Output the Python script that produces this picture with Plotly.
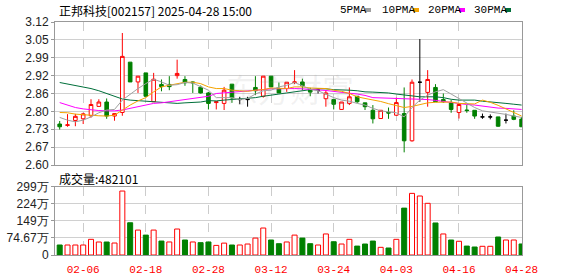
import plotly.graph_objects as go

# ---------------- data ----------------
dates = ["01-24", "01-27", "02-05", "02-06", "02-07", "02-10", "02-11", "02-12", "02-13", "02-14",
         "02-17", "02-18", "02-19", "02-20", "02-21", "02-24", "02-25", "02-26", "02-27", "02-28",
         "03-03", "03-04", "03-05", "03-06", "03-07", "03-10", "03-11", "03-12", "03-13", "03-14",
         "03-17", "03-18", "03-19", "03-20", "03-21", "03-24", "03-25", "03-26", "03-27", "03-28",
         "03-31", "04-01", "04-02", "04-03", "04-07", "04-08", "04-09", "04-10", "04-11", "04-14",
         "04-15", "04-16", "04-17", "04-18", "04-21", "04-22", "04-23", "04-24", "04-25", "04-28"]

opens = [2.749, 2.744, 2.762, 2.768, 2.779, 2.813, 2.829, 2.778, 2.791, 2.974,
         2.902, 2.935, 2.830, 2.893, 2.893, 2.925, 2.911, 2.902, 2.883, 2.862,
         2.827, 2.824, 2.894, 2.838, 2.838, 2.882, 2.850, 2.923, 2.878, 2.878,
         2.900, 2.902, 2.875, 2.872, 2.841, 2.838, 2.802, 2.824, 2.850, 2.826,
         2.799, 2.769, 2.791, 2.781, 2.787, 2.688, 2.901, 2.864, 2.882, 2.838,
         2.826, 2.791, 2.800, 2.799, 2.775, 2.775, 2.775, 2.763, 2.778, 2.767]
highs = [2.760, 2.785, 2.786, 2.790, 2.839, 2.839, 2.842, 2.787, 3.080, 2.974,
         2.923, 2.935, 2.935, 2.911, 2.923, 2.983, 2.923, 2.904, 2.889, 2.866,
         2.832, 2.884, 2.894, 2.848, 2.848, 2.923, 2.923, 2.923, 2.900, 2.901,
         2.945, 2.914, 2.881, 2.878, 2.872, 2.838, 2.829, 2.882, 2.850, 2.826,
         2.818, 2.799, 2.809, 2.845, 2.882, 2.911, 3.058, 2.945, 2.894, 2.860,
         2.836, 2.820, 2.818, 2.799, 2.787, 2.784, 2.775, 2.787, 2.799, 2.775]
lows = [2.729, 2.739, 2.741, 2.749, 2.772, 2.813, 2.768, 2.761, 2.779, 2.902,
        2.862, 2.850, 2.830, 2.868, 2.872, 2.914, 2.888, 2.862, 2.860, 2.802,
        2.802, 2.800, 2.826, 2.821, 2.812, 2.854, 2.845, 2.884, 2.862, 2.866,
        2.894, 2.872, 2.850, 2.860, 2.812, 2.802, 2.800, 2.818, 2.826, 2.800,
        2.751, 2.769, 2.768, 2.779, 2.646, 2.685, 2.830, 2.812, 2.830, 2.826,
        2.790, 2.769, 2.790, 2.768, 2.768, 2.766, 2.739, 2.751, 2.763, 2.739]
closes = [2.739, 2.746, 2.777, 2.786, 2.820, 2.829, 2.778, 2.787, 2.995, 2.902,
          2.923, 2.850, 2.912, 2.885, 2.885, 2.933, 2.899, 2.899, 2.862, 2.824,
          2.830, 2.872, 2.844, 2.838, 2.838, 2.870, 2.923, 2.884, 2.862, 2.901,
          2.902, 2.888, 2.865, 2.872, 2.862, 2.821, 2.829, 2.848, 2.830, 2.812,
          2.768, 2.799, 2.789, 2.827, 2.688, 2.901, 2.901, 2.911, 2.830, 2.830,
          2.802, 2.820, 2.798, 2.778, 2.775, 2.775, 2.741, 2.763, 2.766, 2.739]
# candle colour: r = up (hollow red), g = down (green), k = flat (black)
candle_col = list("grrrrrgrrgrgrggrgggg" "rrgkkgrggrrggkrgrrgg" "grgrgrkrgggrggkkgkgg")

ma5 = [2.773, 2.763, 2.757, 2.763, 2.775, 2.790, 2.800, 2.802, 2.836, 2.858,
       2.878, 2.896, 2.912, 2.902, 2.890, 2.892, 2.900, 2.898, 2.884, 2.872,
       2.845, 2.845, 2.845, 2.838, 2.842, 2.858, 2.870, 2.872, 2.884, 2.890,
       2.900, 2.888, 2.875, 2.870, 2.858, 2.845, 2.836, 2.832, 2.824, 2.818,
       2.806, 2.797, 2.793, 2.790, 2.775, 2.809, 2.836, 2.854, 2.866, 2.874,
       2.858, 2.842, 2.824, 2.809, 2.797, 2.793, 2.787, 2.784, 2.778, 2.773]
ma10 = [2.791, 2.790, 2.785, 2.782, 2.781, 2.779, 2.778, 2.781, 2.800, 2.818,
        2.833, 2.845, 2.866, 2.884, 2.890, 2.896, 2.901, 2.901, 2.896, 2.884,
        2.878, 2.878, 2.872, 2.870, 2.868, 2.872, 2.874, 2.880, 2.878, 2.878,
        2.884, 2.884, 2.880, 2.879, 2.878, 2.872, 2.868, 2.860, 2.848, 2.842,
        2.837, 2.831, 2.823, 2.815, 2.809, 2.813, 2.820, 2.826, 2.828, 2.828,
        2.829, 2.824, 2.824, 2.822, 2.836, 2.828, 2.817, 2.804, 2.793, 2.778]
ma20 = [2.827, 2.818, 2.809, 2.804, 2.800, 2.798, 2.797, 2.797, 2.800, 2.806,
        2.812, 2.818, 2.824, 2.826, 2.830, 2.833, 2.836, 2.841, 2.845, 2.850,
        2.860, 2.862, 2.865, 2.868, 2.870, 2.872, 2.874, 2.877, 2.878, 2.878,
        2.878, 2.877, 2.876, 2.873, 2.871, 2.867, 2.865, 2.861, 2.858, 2.853,
        2.845, 2.844, 2.844, 2.843, 2.842, 2.841, 2.839, 2.838, 2.835, 2.831,
        2.827, 2.824, 2.820, 2.818, 2.814, 2.809, 2.807, 2.806, 2.803, 2.802]
ma30 = [2.900, 2.895, 2.889, 2.884, 2.878, 2.870, 2.860, 2.848, 2.840, 2.836,
        2.834, 2.832, 2.830, 2.827, 2.825, 2.824, 2.826, 2.828, 2.829, 2.834,
        2.833, 2.836, 2.838, 2.841, 2.842, 2.845, 2.850, 2.853, 2.858, 2.862,
        2.866, 2.872, 2.874, 2.877, 2.877, 2.874, 2.874, 2.872, 2.870, 2.866,
        2.865, 2.864, 2.862, 2.858, 2.854, 2.850, 2.848, 2.848, 2.848, 2.845,
        2.839, 2.836, 2.836, 2.836, 2.832, 2.830, 2.826, 2.824, 2.821, 2.818]

# volume in 万 (10k shares)
volume = [43.7, 43.7, 43.7, 43.7, 68.5, 56.8, 56.8, 52.4, 279.7, 141.0,
          109.0, 87.0, 109.0, 61.0, 57.0, 113.6, 65.6, 57.0, 54.0, 57.0,
          42.0, 52.0, 43.7, 43.7, 48.0, 74.0, 118.0, 65.6, 49.5, 57.0,
          87.0, 74.0, 49.5, 43.7, 92.0, 58.0, 48.0, 68.5, 39.0, 48.0,
          61.0, 33.5, 30.6, 68.5, 205.0, 269.5, 258.0, 226.0, 140.0, 92.0,
          65.6, 60.0, 39.0, 35.0, 38.0, 38.0, 78.7, 65.6, 65.6, 48.2101]
vol_col = list("grrrrrgrrgrgrgrrgrgg" "rrgrrrrggrrggrrgrrgg" "grgrgrrrgrgrggrrgrrg")

price_ticks = [3.12, 3.055, 2.99, 2.925, 2.86, 2.795, 2.73, 2.665, 2.60]
price_tick_text = ["3.12", "3.05", "2.99", "2.92", "2.86", "2.80", "2.73", "2.67", "2.60"]
vol_ticks = [0, 74.67, 149.33, 224.0, 298.67]
vol_tick_text = ["0", "74.67万", "149万", "224万", "299万"]
date_ticks = ["02-06", "02-18", "02-28", "03-12", "03-24", "04-03", "04-16", "04-28"]

title_text = "正邦科技[002157] 2025-04-28 15:00"
vol_title = "成交量:482101"
ma_names = ["5PMA", "10PMA", "20PMA", "30PMA"]

# ---------------- styles ----------------
RED = "#ff0000"
GREEN = "#008000"
BLACK = "#000000"
MA_COLORS = ["#a0a0a0", "#f5a300", "#ff00ff", "#006f3a"]
W, H = 578, 276
ML, MR, MT, MB = 55, 56, 22, 21
PW, PH = W - ML - MR, H - MT - MB


def px_x(x):
    return (x - ML) / PW


def px_y(y):
    return (H - MB - y) / PH


fig = go.Figure()

styles = {"r": (RED, "#ffffff"), "g": (GREEN, GREEN), "k": (BLACK, BLACK)}
for key, (lc, fc) in styles.items():
    idx = [i for i, c in enumerate(candle_col) if c == key]
    fig.add_trace(go.Candlestick(
        x=[dates[i] for i in idx],
        open=[opens[i] for i in idx], high=[highs[i] for i in idx],
        low=[lows[i] for i in idx], close=[closes[i] for i in idx],
        increasing=dict(line=dict(color=lc, width=1), fillcolor=fc),
        decreasing=dict(line=dict(color=lc, width=1), fillcolor=fc),
        whiskerwidth=0, showlegend=False, hoverinfo="skip",
        xaxis="x", yaxis="y"))

for vals, col in zip([ma30, ma20, ma10, ma5], MA_COLORS[::-1]):
    fig.add_trace(go.Scatter(x=dates, y=vals, mode="lines",
                             line=dict(color=col, width=1),
                             showlegend=False, hoverinfo="skip",
                             xaxis="x", yaxis="y"))

fig.add_trace(go.Bar(
    x=dates, y=volume, width=0.64,
    marker=dict(color=["#ffffff" if c == "r" else GREEN for c in vol_col],
                line=dict(color=[RED if c == "r" else GREEN for c in vol_col], width=1)),
    showlegend=False, hoverinfo="skip", xaxis="x2", yaxis="y2"))

xcommon = dict(type="category", categoryorder="array", categoryarray=dates,
               range=[-0.6, len(dates) - 0.95], tickvals=date_ticks,
               showgrid=True, gridcolor="#cccccc", griddash="dash", gridwidth=1,
               showline=True, linecolor="#999999", linewidth=1, mirror=True,
               zeroline=False, fixedrange=True, automargin=False)

fig.update_layout(
    width=W, height=H,
    margin=dict(l=ML, r=MR, t=MT, b=MB, autoexpand=False),
    paper_bgcolor="#ffffff", plot_bgcolor="#ffffff",
    showlegend=False,
    xaxis=dict(domain=[0, 1], anchor="y", showticklabels=False, ticks="",
               rangeslider=dict(visible=False), **xcommon),
    xaxis2=dict(domain=[0, 1], anchor="y2", showticklabels=True, ticktext=date_ticks,
                ticks="outside", ticklen=4, tickcolor="rgba(0,0,0,0)",
                tickfont=dict(family="Liberation Mono, monospace", size=11, color=RED),
                **xcommon),
    yaxis=dict(domain=[px_y(165), 1], range=[2.60, 3.12], tickvals=price_ticks,
               ticktext=price_tick_text, showgrid=True, gridcolor="#d0d0d0",
               showline=True, linecolor="#999999", mirror=True, ticks="outside",
               ticklen=3, tickcolor="#999999", zeroline=False, automargin=False,
               tickfont=dict(family="Liberation Sans, Arial", size=12, color="#222222")),
    yaxis2=dict(domain=[0, px_y(186.7)], range=[0, 298.67], tickvals=vol_ticks,
                ticktext=vol_tick_text, showgrid=True, gridcolor="#d0d0d0",
                showline=True, linecolor="#999999", mirror=True, ticks="outside",
                ticklen=3, tickcolor="#999999", zeroline=False, automargin=False,
                tickfont=dict(family="Liberation Sans, Arial", size=12, color="#222222")),
    bargap=0.36,
    boxgap=0.34,
)

ann = []
ann.append(dict(text=title_text, x=px_x(57), y=px_y(10), xref="paper", yref="paper",
                xanchor="left", yanchor="middle", showarrow=False,
                font=dict(family="Noto Sans CJK SC", size=12, color="#000000")))
ann.append(dict(text=vol_title, x=px_x(57), y=px_y(178), xref="paper", yref="paper",
                xanchor="left", yanchor="middle", showarrow=False,
                font=dict(family="Noto Sans CJK SC", size=12, color="#000000")))
ann.append(dict(text="东方财富", x=px_x(290), y=px_y(88), xref="paper", yref="paper",
                xanchor="center", yanchor="middle", showarrow=False,
                font=dict(family="Noto Sans CJK SC", size=32, color="rgba(150,150,150,0.12)")))
legend_x = [338, 380, 426, 472]
square_x = [365, 413, 459, 505]
shapes = []
for name, lx, sx, col in zip(ma_names, legend_x, square_x, MA_COLORS):
    ann.append(dict(text=name, x=px_x(lx), y=px_y(10), xref="paper", yref="paper",
                    xanchor="left", yanchor="middle", showarrow=False,
                    font=dict(family="Liberation Mono, monospace", size=11, color="#000000")))
    shapes.append(dict(type="rect", xref="paper", yref="paper",
                       x0=px_x(sx), x1=px_x(sx + 6), y0=px_y(12), y1=px_y(8),
                       fillcolor=col, line=dict(width=0)))
fig.update_layout(annotations=ann, shapes=shapes)

fig.write_html("out.html")
